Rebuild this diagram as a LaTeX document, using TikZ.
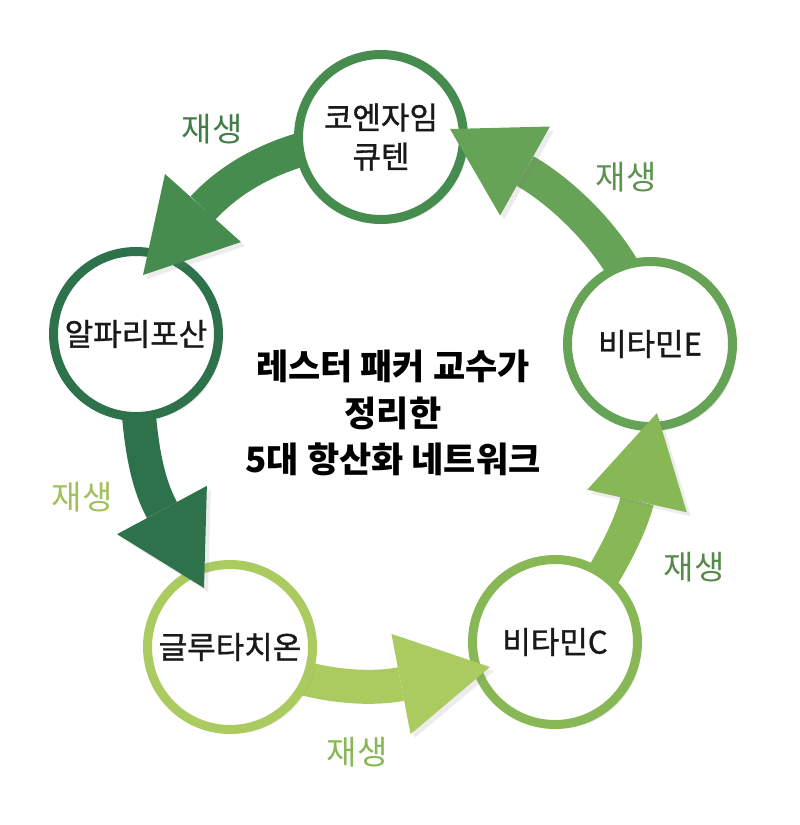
\documentclass[tikz,border=0pt]{standalone}
\usepackage{fontspec}
\setmainfont{Noto Sans CJK KR}
\newfontfamily\midfont{Noto Sans CJK KR}[FakeBold=1.1]
\usepackage{xcolor}
\usetikzlibrary{calc,backgrounds,shadows}

\definecolor{ringA}{HTML}{478C4F}
\definecolor{ringB}{HTML}{2E724C}
\definecolor{ringC}{HTML}{ABCB60}
\definecolor{ringD}{HTML}{88B856}
\definecolor{ringE}{HTML}{67A357}

\begin{document}
\begin{tikzpicture}[x=1pt,y=-1pt,
  ring/.style={circle,draw=#1,line width=9pt,fill=white,minimum size=165pt,inner sep=0pt,
    align=center,text=black!90,font=\midfont\fontsize{31}{39}\selectfont,
    drop shadow={shadow xshift=4pt,shadow yshift=-4pt,opacity=.18}},
  shaft/.style={draw=#1,line width=34pt},
  head/.style={fill=#1,drop shadow={shadow xshift=4pt,shadow yshift=-4pt,opacity=.15}},
  regen/.style={text=#1,font=\fontsize{33}{33}\selectfont}]
  \useasboundingbox (0,0) rectangle (800,825);

  % five antioxidants
  \node[ring=ringA] (coq) at (381,137) {코엔자임\\큐텐};
  \node[ring=ringB] (ala) at (136,334) {알파리포산};
  \node[ring=ringC] (glu) at (230,647) {글루타치온};
  \node[ring=ringD] (vc)  at (555,642) {비타민C};
  \node[ring=ringE] (ve)  at (650,344) {비타민E};

  % title in the middle
  \node[align=center,font=\bfseries\fontsize{35}{46.5}\selectfont] (title) at (393,413)
    {레스터 패커 교수가\\정리한\\5대 항산화 네트워크};

  % base and tip of each arrow head
  \coordinate (hA) at (203,208); \coordinate (tA) at (143,275);
  \coordinate (hB) at (162,510); \coordinate (tB) at (204,588);
  \coordinate (hC) at (401,684); \coordinate (tC) at (490,667);
  \coordinate (hD) at (637,501); \coordinate (tD) at (657,413);
  \coordinate (hE) at (525,171); \coordinate (tE) at (450,129);

  % shafts go under the circles
  \begin{scope}[on background layer]
    \draw[shaft=ringA] (coq.center) .. controls (300,140) and (240,168) .. (hA);
    \draw[shaft=ringB] (ala.center) .. controls (136,430) and (145,479) .. (hB);
    \draw[shaft=ringC] (glu.center) .. controls (300,690) and (372,690) .. (hC);
    \draw[shaft=ringD] (vc.center) .. controls (600,590) and (630,530) .. (hD);
    \draw[shaft=ringE] (ve.center) .. controls (640,260) and (564,193) .. (hE);
  \end{scope}

  % heads lie over the next circle
  \fill[head=ringA] (tA) -- ($(hA)!51pt!90:(tA)$) -- ($(hA)!51pt!-90:(tA)$) -- cycle;
  \fill[head=ringB] (tB) -- ($(hB)!51pt!90:(tB)$) -- ($(hB)!51pt!-90:(tB)$) -- cycle;
  \fill[head=ringC] (tC) -- ($(hC)!51pt!90:(tC)$) -- ($(hC)!51pt!-90:(tC)$) -- cycle;
  \fill[head=ringD] (tD) -- ($(hD)!51pt!90:(tD)$) -- ($(hD)!51pt!-90:(tD)$) -- cycle;
  \fill[head=ringE] (tE) -- ($(hE)!51pt!90:(tE)$) -- ($(hE)!51pt!-90:(tE)$) -- cycle;

  % labels
  \node[regen=ringA!90!black] (rA) at (212,129) {재생};
  \node[regen=ringC!95!black] (rB) at (82,497)  {재생};
  \node[regen=ringD]          (rC) at (357,752) {재생};
  \node[regen=ringE!85!black] (rD) at (694,567) {재생};
  \node[regen=ringE!90!black] (rE) at (626,177) {재생};
\end{tikzpicture}
\end{document}
